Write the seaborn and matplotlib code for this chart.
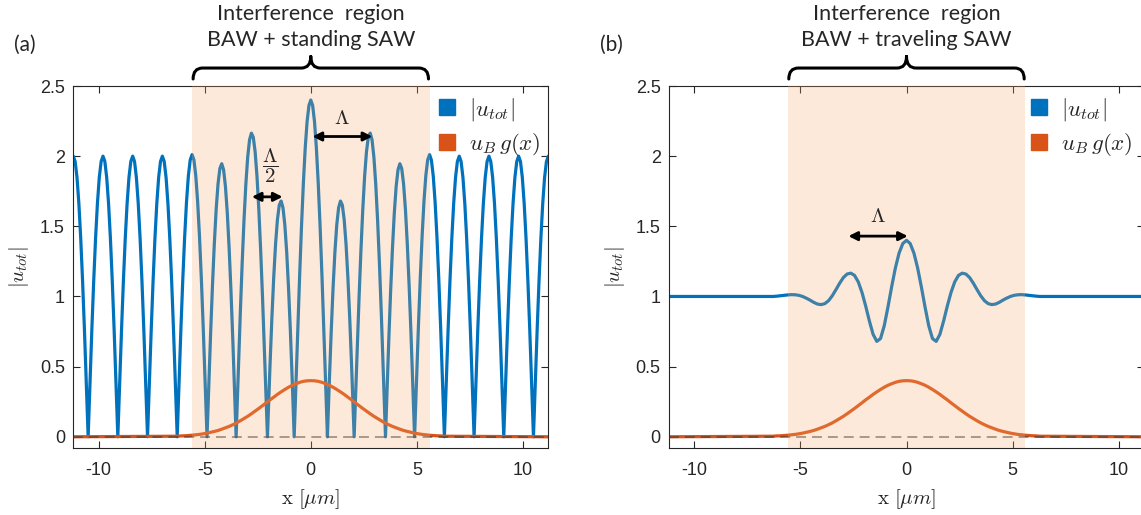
import numpy as np
import seaborn as sns
import matplotlib.pyplot as plt
from matplotlib.lines import Line2D
from matplotlib.path import Path
from matplotlib.patches import PathPatch
from matplotlib.ticker import FuncFormatter

# values (x >= 0 half, both panels are symmetric about x = 0)
# panel (a): |u_tot|, BAW + standing SAW, sampled every 0.0875 um from 0 to 11.2
a_step = 0.0875
a_half = [2.400, 2.361, 2.246, 2.060, 1.809, 1.503, 1.153, 0.774, 0.378, 0.017, 0.399, 0.751, 1.061, 1.318, 1.511, 1.633,
          1.680, 1.651, 1.546, 1.371, 1.132, 0.839, 0.503, 0.138, 0.242, 0.622, 0.988, 1.323, 1.616, 1.855, 2.031, 2.135,
          2.164, 2.117, 1.994, 1.801, 1.544, 1.233, 0.879, 0.497, 0.099, 0.298, 0.679, 1.031, 1.340, 1.594, 1.784, 1.903,
          1.946, 1.912, 1.802, 1.621, 1.376, 1.076, 0.734, 0.361, 0.026, 0.414, 0.787, 1.131, 1.432, 1.679, 1.862, 1.974,
          2.011, 1.972, 1.857, 1.671, 1.421, 1.118, 0.771, 0.395, 0.000, 0.390, 0.765, 1.111, 1.414, 1.663, 1.848, 1.962,
          2.000, 1.962, 1.848, 1.663, 1.414, 1.111, 0.765, 0.390, 0.000, 0.390, 0.765, 1.111, 1.414, 1.663, 1.848, 1.962,
          2.000, 1.962, 1.848, 1.663, 1.414, 1.111, 0.765, 0.390, 0.000, 0.390, 0.765, 1.111, 1.414, 1.663, 1.848, 1.962,
          2.000, 1.962, 1.848, 1.663, 1.414, 1.111, 0.765, 0.390, 0.000, 0.390, 0.765, 1.111, 1.414, 1.663, 1.848, 1.962,
          2.000]
# zeros (cusps) of |u_tot| inside the interference region
cusp_x = [0.784, 2.044, 3.522, 4.894]

# panel (b) and the BAW profile: every 0.175 um from 0 to 6.3, then x = 11.2
env_step = 0.175
b_half = [1.400, 1.377, 1.309, 1.203, 1.069, 0.924, 0.791, 0.700, 0.680, 0.730,
          0.825, 0.932, 1.029, 1.104, 1.150, 1.166, 1.160, 1.135, 1.095, 1.049,
          1.005, 0.970, 0.949, 0.942, 0.946, 0.958, 0.974, 0.988, 1.000, 1.008,
          1.012, 1.013, 1.011, 1.008, 1.005, 1.002, 1.000, 1.000]
g_half = [0.400, 0.399, 0.395, 0.388, 0.378, 0.367, 0.353, 0.337, 0.320, 0.302,
          0.282, 0.263, 0.242, 0.222, 0.202, 0.183, 0.164, 0.146, 0.130, 0.114,
          0.099, 0.086, 0.074, 0.064, 0.054, 0.045, 0.038, 0.032, 0.026, 0.021,
          0.017, 0.014, 0.011, 0.009, 0.007, 0.006, 0.004, 0.000]

region = 5.6
x_lim = 11.2

x_a = np.round(np.arange(len(a_half)) * a_step, 4)
x_env = np.append(np.round(np.arange(len(b_half) - 1) * env_step, 4), x_lim)


def mirror(xh, yh):
    xh = np.asarray(xh, float)
    yh = np.asarray(yh, float)
    x = np.concatenate([-xh[::-1], xh[1:]])
    y = np.concatenate([yh[::-1], yh[1:]])
    return x, y


xa, ya = mirror(x_a, a_half)
xc = np.concatenate([-np.array(cusp_x), cusp_x])
xa = np.concatenate([xa, xc])
ya = np.concatenate([ya, np.zeros(len(xc))])
order = np.argsort(xa)
xa, ya = xa[order], ya[order]

xb, yb = mirror(x_env, b_half)
xg, yg = mirror(x_env, g_half)

BLUE = "#0072BD"
ORANGE = "#D95319"
SHADE = "#F7AB6B"
AXC = "#262626"

sns.set_style("ticks")
plt.rcParams["font.family"] = ["Liberation Sans", "DejaVu Sans"]
plt.rcParams["mathtext.fontset"] = "cm"
plt.rcParams["axes.unicode_minus"] = False

W, H = 1141, 515
fig = plt.figure(figsize=(W / 100, H / 100), dpi=100)
ax_w = 475 / W
ax_b = (H - 448) / H
ax_h = (448 - 86) / H
ax1 = fig.add_axes([73.3 / W, ax_b, ax_w, ax_h])
ax2 = fig.add_axes([669 / W, ax_b, ax_w, ax_h])


def brace(ax, y_end=2.55, y_h=2.628, y_tip=2.71, half=5.55, rx=0.45):
    verts, codes = [], []
    for s in (-1, 1):
        verts += [(s * half, y_end), (s * half, y_h), (s * (half - rx), y_h),
                  (s * rx, y_h), (0, y_h), (0, y_tip)]
        codes += [Path.MOVETO, Path.CURVE3, Path.CURVE3,
                  Path.LINETO, Path.CURVE3, Path.CURVE3]
    ax.add_patch(PathPatch(Path(verts, codes), fill=False, lw=2.2, ec="black",
                           clip_on=False, capstyle="round", zorder=7))


def arrow(ax, x0, x1, y):
    ax.annotate("", xy=(x1, y), xytext=(x0, y),
                arrowprops=dict(arrowstyle="<|-|>", lw=2.0, color="black",
                                mutation_scale=13, shrinkA=0, shrinkB=0),
                zorder=7)


for ax, x, y, title, sub, lbl_x, leg_x in [
        (ax1, xa, ya, "(a)", "BAW + standing SAW", 25, 1.0),
        (ax2, xb, yb, "(b)", "BAW + traveling SAW", 611, 0.992)]:
    sns.lineplot(x=x, y=y, ax=ax, color=BLUE, lw=2.3, estimator=None, sort=False)
    sns.lineplot(x=xg, y=yg, ax=ax, color=ORANGE, lw=2.3, estimator=None, sort=False)
    ax.axhline(0, color="#3a3a3a", alpha=0.6, lw=1.3, dashes=(5.5, 3.3), zorder=3)
    ax.axvspan(-region, region, color=SHADE, alpha=0.25, lw=0, zorder=5)

    ax.set_xlim(-x_lim, x_lim)
    ax.set_ylim(-0.08, 2.5)
    ax.set_xticks([-10, -5, 0, 5, 10])
    ax.set_yticks([0, 0.5, 1, 1.5, 2, 2.5])
    ax.yaxis.set_major_formatter(FuncFormatter(lambda v, p: f"{v:g}"))
    ax.tick_params(direction="in", length=5, width=0.8, colors=AXC,
                   labelsize=13, top=True, right=True)
    ax.tick_params(axis="x", pad=10)
    ax.tick_params(axis="y", pad=6)
    for sp in ax.spines.values():
        sp.set_visible(True)
        sp.set_color(AXC)
        sp.set_linewidth(0.8)
    ax.set_xlabel(r"$\mathrm{x}\ [\mu m]$", fontsize=15, color=AXC, labelpad=6)
    ax.set_ylabel(r"$|u_{tot}|$", fontsize=15, color=AXC)
    ax.yaxis.set_label_coords(-0.089, 0.5)

    brace(ax)
    ax.text(0, 3.01, "Interference  region", ha="center", va="center",
            fontsize=15.5, family="Lato", clip_on=False)
    ax.text(0, 2.83, sub, ha="center", va="center", fontsize=15.5,
            family="Lato", clip_on=False)
    fig.text(lbl_x / W, 1 - 45 / H, title, ha="center", va="center",
             fontsize=15, family="Lato")

    handles = [Line2D([], [], marker="s", ls="none", color=BLUE, markersize=12),
               Line2D([], [], marker="s", ls="none", color=ORANGE, markersize=12)]
    ax.legend(handles, [r"$|u_{tot}|$", r"$u_B\,g(x)$"], loc="upper right",
              bbox_to_anchor=(leg_x, 0.995), frameon=False, fontsize=16.5,
              handlelength=0.9, handletextpad=0.5, labelspacing=0.37,
              borderpad=0.3, borderaxespad=0.05)

# wavelength markers
arrow(ax1, -2.78, -1.33, 1.71)
ax1.text(-1.93, 1.93, r"$\dfrac{\Lambda}{2}$", ha="center", va="center",
         fontsize=15, zorder=7)
arrow(ax1, 0.08, 2.9, 2.14)
ax1.text(1.45, 2.27, r"$\Lambda$", ha="center", va="center", fontsize=15, zorder=7)
arrow(ax2, -2.74, 0.06, 1.43)
ax2.text(-1.35, 1.57, r"$\Lambda$", ha="center", va="center", fontsize=15, zorder=7)

fig.savefig("out.png", dpi=100)
